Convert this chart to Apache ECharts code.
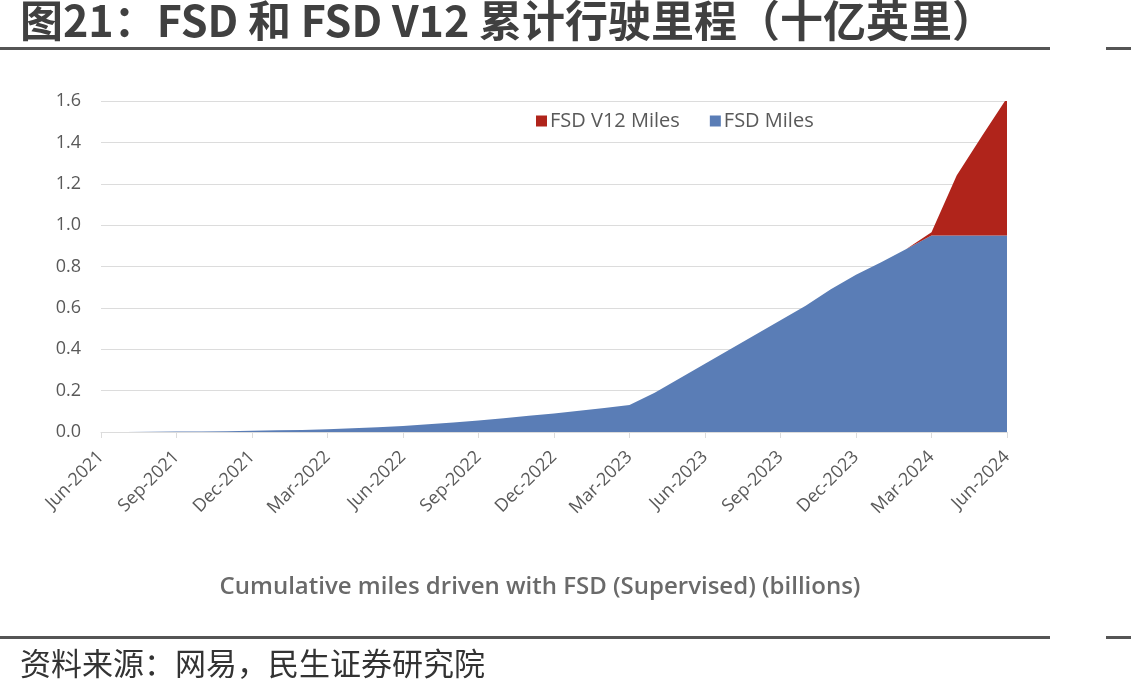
<!DOCTYPE html>
<html>
<head>
<meta charset="utf-8">
<title>FSD 累计行驶里程</title>
<script src="https://cdn.jsdelivr.net/npm/echarts@6/dist/echarts.min.js"></script>
<style>
  html, body { margin: 0; padding: 0; background: #fff; }
  #chart { width: 1131px; height: 700px; }
</style>
</head>
<body>
<div id="chart"></div>
<script>
// monthly points, Jun-2021 .. Jun-2024
const months = [
  'Jun-2021', 'Jul-2021', 'Aug-2021', 'Sep-2021', 'Oct-2021', 'Nov-2021', 'Dec-2021',
  'Jan-2022', 'Feb-2022', 'Mar-2022', 'Apr-2022', 'May-2022', 'Jun-2022',
  'Jul-2022', 'Aug-2022', 'Sep-2022', 'Oct-2022', 'Nov-2022', 'Dec-2022',
  'Jan-2023', 'Feb-2023', 'Mar-2023', 'Apr-2023', 'May-2023', 'Jun-2023',
  'Jul-2023', 'Aug-2023', 'Sep-2023', 'Oct-2023', 'Nov-2023', 'Dec-2023',
  'Jan-2024', 'Feb-2024', 'Mar-2024', 'Apr-2024', 'May-2024', 'Jun-2024'
]

// cumulative miles, billions (FSD Miles, excluding V12)
const fsdMiles = [
  0, 0.0005, 0.001, 0.002, 0.003, 0.004, 0.006,
  0.008, 0.010, 0.013, 0.018, 0.023, 0.029,
  0.037, 0.046, 0.055, 0.066, 0.078, 0.090,
  0.103, 0.116, 0.130, 0.190, 0.260, 0.330,
  0.400, 0.470, 0.540, 0.610, 0.690, 0.760,
  0.820, 0.885, 0.950, 0.950, 0.950, 0.950
]

// V12 miles stacked on top
const v12Miles = [
  0, 0, 0, 0, 0, 0, 0,
  0, 0, 0, 0, 0, 0,
  0, 0, 0, 0, 0, 0,
  0, 0, 0, 0, 0, 0,
  0, 0, 0, 0, 0, 0,
  0, 0, 0.015, 0.290, 0.480, 0.665
]

const yTicks = { min: 0, max: 1.6, interval: 0.2 }

const textGray = '#595959'
const gridGray = '#dcdcdc'

const chart = echarts.init(document.getElementById('chart'))

const option = {
  backgroundColor: '#fff',
  animation: false,
  textStyle: { fontFamily: '"Open Sans", "Noto Sans", sans-serif' },
  graphic: [
    {
      type: 'text',
      left: 20,
      top: -1,
      style: {
        text: '图21：FSD 和 FSD V12 累计行驶里程（十亿英里）',
        font: 'bold 43px "Noto Sans CJK SC", sans-serif',
        fill: '#404040'
      }
    },
    { type: 'rect', shape: { x: 0, y: 47, width: 1050, height: 3 }, style: { fill: '#555' } },
    { type: 'rect', shape: { x: 1106, y: 47, width: 25, height: 3 }, style: { fill: '#555' } },
    {
      type: 'text',
      x: 540,
      y: 587,
      style: {
        text: 'Cumulative miles driven with FSD (Supervised) (billions)',
        font: '600 24px "Open Sans", sans-serif',
        fill: '#6a6a6a',
        align: 'center',
        verticalAlign: 'middle'
      }
    },
    { type: 'rect', shape: { x: 0, y: 636, width: 1050, height: 3 }, style: { fill: '#555' } },
    { type: 'rect', shape: { x: 1106, y: 636, width: 25, height: 3 }, style: { fill: '#555' } },
    {
      type: 'text',
      left: 20,
      top: 648,
      style: {
        text: '资料来源：网易，民生证券研究院',
        font: '31px "Noto Sans CJK SC", sans-serif',
        fill: '#333'
      }
    }
  ],
  legend: {
    data: ['FSD V12 Miles', 'FSD Miles'],
    left: 531,
    top: 106,
    icon: 'rect',
    itemWidth: 11,
    itemHeight: 11,
    itemGap: 30,
    textStyle: { color: textGray, fontSize: 20, padding: [0, 0, 0, -2] }
  },
  grid: {
    left: 101,
    right: 124,
    top: 101,
    bottom: 268
  },
  xAxis: {
    type: 'category',
    data: months,
    boundaryGap: false,
    axisLine: { lineStyle: { color: gridGray, width: 1 } },
    axisTick: { interval: 2, length: 6, lineStyle: { color: gridGray } },
    axisLabel: {
      interval: 2,
      rotate: 45,
      margin: 22,
      color: textGray,
      fontSize: 18
    },
    splitLine: { show: false }
  },
  yAxis: {
    type: 'value',
    min: yTicks.min,
    max: yTicks.max,
    interval: yTicks.interval,
    axisLine: { show: false },
    axisTick: { show: false },
    axisLabel: {
      color: textGray,
      fontSize: 18,
      margin: 20,
      formatter: (v) => v.toFixed(1)
    },
    splitLine: { lineStyle: { color: gridGray, width: 1 } }
  },
  series: [
    {
      name: 'FSD Miles',
      type: 'line',
      stack: 'total',
      data: fsdMiles,
      symbol: 'none',
      lineStyle: { width: 0 },
      itemStyle: { color: '#5a7db6' },
      areaStyle: { color: '#5a7db6', opacity: 1 }
    },
    {
      name: 'FSD V12 Miles',
      type: 'line',
      stack: 'total',
      data: v12Miles,
      symbol: 'none',
      lineStyle: { width: 0 },
      itemStyle: { color: '#b0241b' },
      areaStyle: { color: '#b0241b', opacity: 1 }
    }
  ]
}

chart.setOption(option)

window.addEventListener('resize', () => chart.resize())
</script>
</body>
</html>
